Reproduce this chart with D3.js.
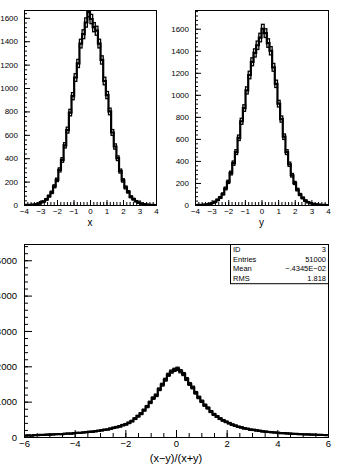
<!DOCTYPE html>
<html>
<head>
<meta charset="utf-8">
<script src="https://cdn.jsdelivr.net/npm/d3@7"></script>
<style>
  body { margin: 0; background: white; }
  svg { display: block; }
  text { font-family: "Liberation Sans", Arial, sans-serif; fill: black; }
  .bin { fill: none; stroke: black; stroke-width: 1.3; }
  .step { fill: none; stroke: black; stroke-width: 2.2; }
  .frame { fill: none; stroke: black; stroke-width: 1; }
  .ax line { stroke: black; }
  .ax path { display: none; }
</style>
</head>
<body>
<div id="chart"></div>
<script>
// bin contents (x and y: 50 bins on [-4,4], ratio: 100 bins on [-6,6])
var xCounts = [1, 0, 2, 3, 6, 12, 24, 30, 48, 76,
  108, 160, 215, 300, 385, 510, 640, 790, 930, 1090,
  1210, 1380, 1460, 1560, 1650, 1590, 1520, 1490, 1380, 1240,
  1060, 940, 800, 620, 500, 400, 290, 210, 150, 112,
  70, 50, 32, 20, 12, 8, 4, 2, 1, 0];

var yCounts = [0, 1, 1, 3, 5, 10, 18, 28, 46, 68,
  100, 150, 210, 290, 380, 480, 610, 760, 880, 1040,
  1180, 1300, 1380, 1450, 1520, 1600, 1560, 1470, 1400, 1250,
  1100, 920, 780, 620, 480, 370, 270, 200, 140, 95,
  64, 40, 26, 16, 10, 6, 3, 2, 1, 0];

var ratioCounts = [40, 45, 38, 52, 55, 60, 58, 66, 70, 72,
  78, 84, 80, 92, 98, 96, 110, 118, 115, 128,
  140, 146, 150, 162, 175, 190, 205, 212, 235, 260,
  280, 300, 335, 360, 400, 450, 520, 590, 660, 760,
  860, 980, 1100, 1180, 1350, 1480, 1620, 1760, 1850, 1900,
  1930, 1860, 1780, 1640, 1500, 1400, 1250, 1120, 1010, 900,
  820, 720, 640, 580, 520, 470, 430, 390, 350, 320,
  290, 270, 245, 230, 210, 200, 185, 175, 160, 150,
  142, 135, 128, 120, 112, 108, 100, 96, 90, 86,
  82, 78, 74, 72, 68, 65, 62, 60, 57, 55];

var statsLabels = ["ID", "Entries", "Mean", "RMS"];
var statsValues = ["3", "51000", "\u2212.4345E\u221202", "1.818"];

var width = 352, height = 470;

var svg = d3.select("#chart")
  .append("svg")
  .attr("width", width)
  .attr("height", height)
  .style("background", "white");

var fmtNum = function (d) { return String(Math.round(d * 100) / 100).replace("-", "\u2212"); };

function draw_hist(id, box, counts, xDomain, yMax, opt)
{
  var xscale = d3.scaleLinear().domain(xDomain).range([box.left, box.right]);
  var yscale = d3.scaleLinear().domain([0, yMax]).range([box.bottom, box.top]);
  var bw = (xDomain[1] - xDomain[0]) / counts.length;

  svg.append("clipPath")
    .attr("id", "clip" + id)
    .append("rect")
    .attr("x", box.left)
    .attr("y", box.top)
    .attr("width", box.right - box.left)
    .attr("height", box.bottom - box.top);

  var plot = svg.append("g")
    .attr("clip-path", "url(#clip" + id + ")");

  // histogram contour
  var pts = counts.map((d, i) => [xDomain[0] + i * bw, d]);
  pts.push([xDomain[1], counts[counts.length - 1]]);

  plot.append("path")
    .datum(pts)
    .attr("class", "step")
    .attr("d", d3.line()
      .curve(d3.curveStepAfter)
      .x(d => xscale(d[0]))
      .y(d => yscale(d[1]))
    );

  // error boxes: bin width x (content +- sqrt(content))
  plot.selectAll("rect")
    .data(counts)
    .enter().append("rect")
    .attr("class", "bin")
    .attr("x", (d, i) => xscale(xDomain[0] + i * bw))
    .attr("width", (d, i) => xscale(xDomain[0] + (i + 1) * bw) - xscale(xDomain[0] + i * bw))
    .attr("y", d => yscale(d + Math.sqrt(d)))
    .attr("height", d => yscale(d - Math.sqrt(d)) - yscale(d + Math.sqrt(d)));

  // minor ticks
  svg.append("g")
    .attr("class", "ax")
    .attr("transform", "translate(" + box.left + ",0)")
    .call(d3.axisLeft(yscale).tickValues(d3.range(0, yMax, opt.yMinor)).tickSize(-opt.yMinLen).tickFormat(""));

  svg.append("g")
    .attr("class", "ax")
    .attr("transform", "translate(0," + box.bottom + ")")
    .call(d3.axisBottom(xscale).tickValues(d3.range(xDomain[0], xDomain[1] + 0.001, opt.xMinor)).tickSize(-opt.xMinLen).tickFormat(""));

  // major ticks + labels
  svg.append("g")
    .attr("class", "ax")
    .attr("transform", "translate(" + box.left + ",0)")
    .call(d3.axisLeft(yscale).tickValues(d3.range(0, yMax, opt.yMajor)).tickSize(-opt.yMajLen).tickPadding(opt.yPad).tickFormat(fmtNum))
    .selectAll("text")
    .style("font-size", opt.font + "px");

  svg.append("g")
    .attr("class", "ax")
    .attr("transform", "translate(0," + box.bottom + ")")
    .call(d3.axisBottom(xscale).tickValues(d3.range(xDomain[0], xDomain[1] + 0.001, opt.xMajor)).tickSize(-opt.xMajLen).tickPadding(opt.xPad).tickFormat(fmtNum))
    .selectAll("text")
    .style("font-size", opt.font + "px");

  svg.append("rect")
    .attr("class", "frame")
    .attr("x", box.left + 0.5)
    .attr("y", box.top + 0.5)
    .attr("width", box.right - box.left)
    .attr("height", box.bottom - box.top);

  svg.append("text")
    .attr("x", (box.left + box.right) / 2)
    .attr("y", opt.titleY)
    .attr("text-anchor", "middle")
    .style("font-size", opt.titleFont + "px")
    .text(opt.title);

  return xscale;
}

var topOpt = { yMajor: 200, yMinor: 40, xMajor: 1, xMinor: 0.2, yMajLen: 6, yMinLen: 3,
  xMajLen: 5, xMinLen: 3, yPad: 6, xPad: 3, font: 8, titleFont: 10, titleY: 226 };

draw_hist("a", { left: 24, right: 156, top: 10, bottom: 205 }, xCounts, [-4, 4], 1667,
  Object.assign({}, topOpt, { title: "x" }));

draw_hist("b", { left: 195, right: 328, top: 10, bottom: 205 }, yCounts, [-4, 4], 1770,
  Object.assign({}, topOpt, { title: "y" }));

draw_hist("c", { left: 24, right: 328, top: 244, bottom: 437 }, ratioCounts, [-6, 6], 5460,
  { yMajor: 1000, yMinor: 200, xMajor: 2, xMinor: 0.5, yMajLen: 8, yMinLen: 4,
    xMajLen: 7, xMinLen: 4, yPad: 7, xPad: 3, font: 9.5, titleFont: 11, titleY: 462,
    title: "(x\u2212y)/(x+y)" });

// statistics box
var sb = { left: 230, right: 328, top: 244, row: 9.8 };

svg.append("rect")
  .attr("class", "frame")
  .attr("x", sb.left + 0.5)
  .attr("y", sb.top + 0.5)
  .attr("width", sb.right - sb.left)
  .attr("height", sb.row * statsLabels.length);

svg.selectAll("text.slab")
  .data(statsLabels)
  .enter().append("text")
  .attr("class", "slab")
  .attr("x", sb.left + 3)
  .attr("y", (d, i) => sb.top + sb.row * (i + 1) - 2)
  .style("font-size", "7.5px")
  .text(d => d);

svg.selectAll("text.sval")
  .data(statsValues)
  .enter().append("text")
  .attr("class", "sval")
  .attr("x", sb.right - 2)
  .attr("y", (d, i) => sb.top + sb.row * (i + 1) - 2)
  .attr("text-anchor", "end")
  .style("font-size", "7.5px")
  .text(d => d);
</script>
</body>
</html>
